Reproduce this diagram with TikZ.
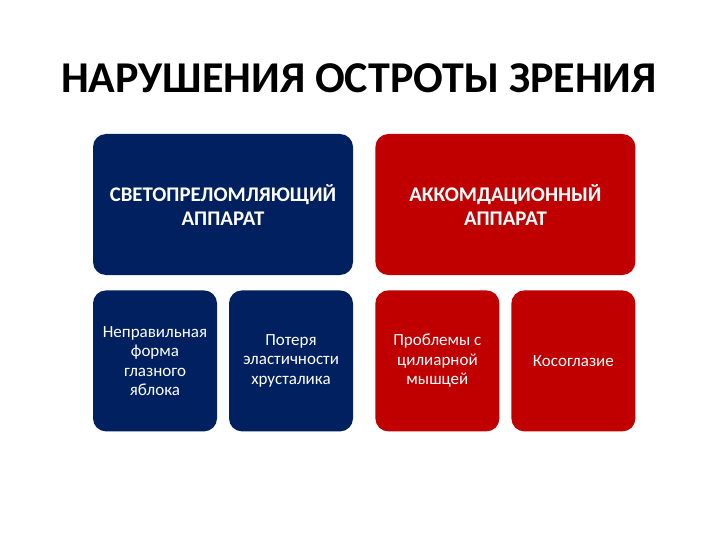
\documentclass[tikz,border=0pt]{standalone}
\usepackage{fontspec}
\setmainfont{Carlito}
\usepackage{tikz}
\usetikzlibrary{positioning}
\definecolor{tblue}{HTML}{002060}
\definecolor{tred}{HTML}{C00000}
\tikzset{
    %Define style for the big boxes
    bigbox/.style={
           rectangle,
           rounded corners=13pt,
           text=white,
           minimum width=260pt,
           minimum height=141pt,
           align=center,
           font=\fontsize{20.8}{24}\selectfont\bfseries},
    %Define style for the small boxes
    smallbox/.style={
           rectangle,
           rounded corners=13pt,
           text=white,
           minimum width=124pt,
           minimum height=141pt,
           align=center,
           font=\fontsize{17}{19.5}\selectfont},
}

\begin{document}
\begin{tikzpicture}[x=1pt,y=-1pt,node distance=22pt]
\useasboundingbox (0,0) rectangle (720,540);

\node[font=\fontsize{44}{52}\selectfont\bfseries](title) at (359,78){НАРУШЕНИЯ ОСТРОТЫ ЗРЕНИЯ};

\node[bigbox, fill=tblue](svet) at (223,204.5){СВЕТОПРЕЛОМЛЯЮЩИЙ\\АППАРАТ};
\node[bigbox, fill=tred, right=of svet](akk){АККОМДАЦИОННЫЙ\\АППАРАТ};

\node[smallbox, fill=tblue, anchor=north west](forma) at ([yshift=-15pt]svet.south west){Неправильная\\форма\\глазного\\яблока};
\node[smallbox, fill=tblue, anchor=north east](hrust) at ([yshift=-15pt]svet.south east){Потеря\\эластичности\\хрусталика};
\node[smallbox, fill=tred, anchor=north west](myshca) at ([yshift=-15pt]akk.south west){Проблемы с\\цилиарной\\мышцей};
\node[smallbox, fill=tred, anchor=north east](kosog) at ([yshift=-15pt]akk.south east){Косоглазие};

\end{tikzpicture}
\end{document}
